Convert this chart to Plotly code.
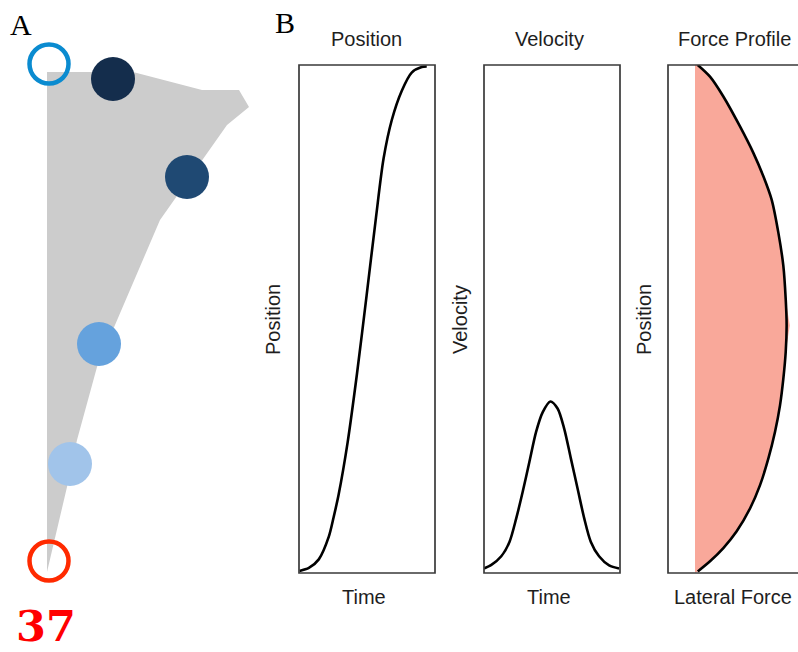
import plotly.graph_objects as go

# ---------------- Panel A: movement envelope with sampled points ----------------
envelope_x = [47, 133, 202, 239, 249, 227, 160, 97, 77, 67, 47, 47]
envelope_y = [72, 72, 90, 90, 107, 125, 220, 367, 440, 487, 572, 72]

start_xy = (49, 64)
end_xy = (49, 561)
sample_x = [113, 187, 99, 70]
sample_y = [79, 177, 344, 464]
sample_colors = ["#142d4c", "#1f4973", "#65a2dd", "#a1c4ea"]
trial_label = "37"

# ---------------- Panel B: kinematic profiles ----------------
pos_time = [0, 0.069, 0.142, 0.216, 0.252, 0.289, 0.355, 0.424, 0.495, 0.564, 0.620,
            0.681, 0.755, 0.828, 0.902, 0.939]
pos_value = [0, 0.006, 0.023, 0.068, 0.107, 0.152, 0.255, 0.391, 0.546, 0.700, 0.817,
             0.894, 0.952, 0.988, 0.999, 1.0]

vel_time = [0, 0.054, 0.127, 0.188, 0.237, 0.285, 0.334, 0.383, 0.432, 0.488, 0.541,
            0.590, 0.639, 0.688, 0.737, 0.785, 0.846, 0.920, 0.993]
vel_value = [0.005, 0.012, 0.029, 0.058, 0.104, 0.157, 0.216, 0.275, 0.314, 0.335, 0.321,
             0.281, 0.222, 0.163, 0.104, 0.058, 0.029, 0.011, 0.005]

force_pos = [1.0, 0.977, 0.938, 0.879, 0.827, 0.781, 0.735, 0.670, 0.605, 0.539, 0.487,
             0.435, 0.382, 0.330, 0.278, 0.225, 0.173, 0.127, 0.082, 0.049, 0.023, 0.003]
force_value = [0.03, 0.163, 0.308, 0.489, 0.634, 0.743, 0.833, 0.906, 0.960, 0.986, 0.996,
               0.986, 0.960, 0.924, 0.870, 0.797, 0.707, 0.598, 0.453, 0.308, 0.163, 0.03]
# filled area under the force curve (its apex sits a touch beyond the outline)
fill_pos = [1.0] + force_pos + [0.0, 1.0]
fill_value = [0.0] + force_value[:10] + [1.03] + force_value[11:] + [0.0, 0.0]

W, H = 798, 652
INK = "#1e1e1e"
FRAME = "#3a3a3a"
SANS = "Liberation Sans, Arial, sans-serif"
SERIF = "Liberation Serif, Times New Roman, serif"

fig = go.Figure()

# Panel A traces (pixel-like data space)
fig.add_trace(go.Scatter(x=envelope_x, y=envelope_y, mode="lines", fill="toself",
                         fillcolor="#cccccc", line=dict(width=0, color="#cccccc"),
                         xaxis="x4", yaxis="y4", hoverinfo="skip"))
fig.add_trace(go.Scatter(x=[start_xy[0]], y=[start_xy[1]], mode="markers",
                         marker=dict(size=39, color="rgba(0,0,0,0)",
                                     line=dict(color="#0a8bd0", width=4.5)),
                         xaxis="x4", yaxis="y4"))
fig.add_trace(go.Scatter(x=sample_x, y=sample_y, mode="markers",
                         marker=dict(size=44, color=sample_colors, line=dict(width=0)),
                         xaxis="x4", yaxis="y4"))
fig.add_trace(go.Scatter(x=[end_xy[0]], y=[end_xy[1]], mode="markers",
                         marker=dict(size=39, color="rgba(0,0,0,0)",
                                     line=dict(color="#ff2a00", width=4.5)),
                         xaxis="x4", yaxis="y4"))

# Panel B traces
curve = dict(color="black", width=2.6, shape="spline", smoothing=0.8)
fig.add_trace(go.Scatter(x=pos_time, y=pos_value, mode="lines", line=curve,
                         xaxis="x", yaxis="y"))
fig.add_trace(go.Scatter(x=vel_time, y=vel_value, mode="lines", line=curve,
                         xaxis="x2", yaxis="y2"))
fig.add_trace(go.Scatter(x=fill_value, y=fill_pos, mode="lines", fill="toself",
                         fillcolor="#f9a89a", line=dict(width=0, color="#f9a89a"),
                         xaxis="x3", yaxis="y3"))
fig.add_trace(go.Scatter(x=force_value, y=force_pos, mode="lines", line=curve,
                         xaxis="x3", yaxis="y3"))

y0 = (H - 573) / H
y1 = (H - 65) / H
hidden = dict(showgrid=False, zeroline=False, showticklabels=False, ticks="",
              showline=False, fixedrange=True)

layout = dict(
    width=W, height=H, margin=dict(l=0, r=0, t=0, b=0),
    paper_bgcolor="white", plot_bgcolor="rgba(0,0,0,0)", showlegend=False,
    xaxis=dict(domain=[299 / W, 435 / W], range=[-0.004, 1.0], **hidden),
    yaxis=dict(domain=[y0, y1], range=[-0.004, 1.003], **hidden),
    xaxis2=dict(domain=[484 / W, 620 / W], range=[0, 1.0], anchor="y2", **hidden),
    yaxis2=dict(domain=[y0, y1], range=[-0.004, 1.0], anchor="x2", **hidden),
    xaxis3=dict(domain=[668 / W, 1.0], range=[-27 / 92, 103 / 92], anchor="y3", **hidden),
    yaxis3=dict(domain=[y0, y1], range=[0, 1.0], anchor="x3", **hidden),
    xaxis4=dict(domain=[0, 270 / W], range=[0, 270], anchor="y4", **hidden),
    yaxis4=dict(domain=[0, 1], range=[H, 0], anchor="x4", **hidden),
)
fig.update_layout(**layout)

# Frames around the three profile panels (the last one runs off the page)
frames = [(299, 435), (484, 620), (668, 840)]
for x_left, x_right in frames:
    fig.add_shape(type="rect", xref="paper", yref="paper",
                  x0=x_left / W, x1=x_right / W, y0=y0, y1=y1,
                  line=dict(color=FRAME, width=1.7), fillcolor="rgba(0,0,0,0)", layer="above")

def label(text, px, py, size=20, angle=0, color=INK, family=SANS, bold=False):
    if bold:
        text = "<b>" + text + "</b>"
    fig.add_annotation(text=text, x=px / W, y=1 - py / H, xref="paper", yref="paper",
                       showarrow=False, textangle=angle, xanchor="center", yanchor="middle",
                       font=dict(size=size, color=color, family=family))

# panel letters
label("A", 21, 24, size=30, family=SERIF, color="black")
label("B", 285, 22, size=30, family=SERIF, color="black")

# panel titles
label("Position", 366, 39)
label("Velocity", 549, 39)
label("Force Profile", 734, 39)

# axis titles
label("Time", 364, 597)
label("Time", 549, 597)
label("Lateral Force", 733, 597)
label("Position", 273, 320, angle=-90)
label("Velocity", 460, 320, angle=-90)
label("Position", 644, 320, angle=-90)

# trial number
label(trial_label, 46, 626, size=43, family="DejaVu Serif, serif", color="#ff0000", bold=True)

fig.write_html("out.html")
